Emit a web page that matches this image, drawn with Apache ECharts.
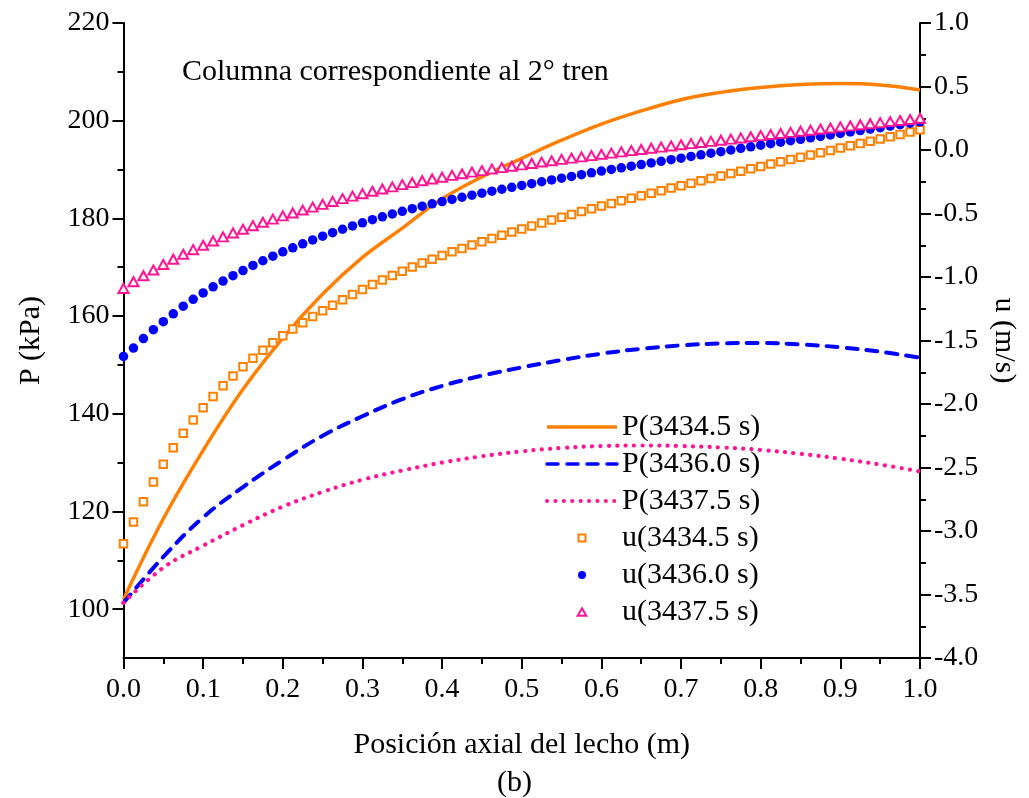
<!DOCTYPE html>
<html>
<head>
<meta charset="utf-8">
<script src="https://cdn.jsdelivr.net/npm/echarts@6/dist/echarts.min.js"></script>
<style>html,body{margin:0;padding:0;background:#fff}#c{width:1029px;height:798px}</style>
</head>
<body>
<div id="c"></div>
<script>
// ---- data ----
var pX = [0,0.05,0.1,0.15,0.2,0.25,0.3,0.35,0.4,0.45,0.5,0.55,0.6,0.65,0.7,0.75,0.8,0.85,0.9,0.95,1.0];
var p34345 = [102,118.5,132.5,145,155.5,164.5,172,178,184,188.5,192.3,196,199.3,202,204.3,205.8,206.8,207.4,207.6,207.3,206.3];
var p34360 = [101.3,110.7,118.8,125,130.5,135.5,139.5,143,145.7,147.8,149.5,151,152.3,153.3,154,154.4,154.5,154.2,153.6,152.7,151.5];
var p34375 = [101.3,108.5,113,117.2,121,124,126.5,128.4,130,131.3,132.3,133,133.4,133.5,133.4,133.1,132.6,131.8,130.8,129.6,128.2];

var uX = [0,0.0125,0.025,0.0375,0.05,0.0625,0.075,0.0875,0.1,0.1125,0.125,0.1375,0.15,0.1625,0.175,0.1875,0.2,0.2125,0.225,0.2375,0.25,0.2625,0.275,0.2875,0.3,0.3125,0.325,0.3375,0.35,0.3625,0.375,0.3875,0.4,0.4125,0.425,0.4375,0.45,0.4625,0.475,0.4875,0.5,0.5125,0.525,0.5375,0.55,0.5625,0.575,0.5875,0.6,0.6125,0.625,0.6375,0.65,0.6625,0.675,0.6875,0.7,0.7125,0.725,0.7375,0.75,0.7625,0.775,0.7875,0.8,0.8125,0.825,0.8375,0.85,0.8625,0.875,0.8875,0.9,0.9125,0.925,0.9375,0.95,0.9625,0.975,0.9875,1.0];
var u34345 = [-3.10,-2.93,-2.77,-2.615,-2.475,-2.345,-2.23,-2.125,-2.03,-1.94,-1.857,-1.78,-1.707,-1.64,-1.577,-1.518,-1.463,-1.41,-1.36,-1.312,-1.266,-1.222,-1.179,-1.138,-1.098,-1.06,-1.023,-0.988,-0.954,-0.922,-0.89,-0.86,-0.83,-0.802,-0.775,-0.748,-0.722,-0.696,-0.671,-0.646,-0.622,-0.598,-0.575,-0.552,-0.529,-0.507,-0.485,-0.463,-0.441,-0.421,-0.400,-0.380,-0.360,-0.340,-0.320,-0.300,-0.281,-0.262,-0.243,-0.224,-0.205,-0.186,-0.167,-0.148,-0.129,-0.111,-0.093,-0.075,-0.057,-0.039,-0.021,-0.003,0.015,0.033,0.051,0.069,0.087,0.105,0.123,0.141,0.159];
var u34360 = [-1.625,-1.56,-1.485,-1.415,-1.352,-1.29,-1.23,-1.176,-1.125,-1.077,-1.032,-0.99,-0.949,-0.909,-0.872,-0.836,-0.802,-0.77,-0.739,-0.708,-0.679,-0.651,-0.624,-0.598,-0.573,-0.549,-0.526,-0.504,-0.483,-0.462,-0.442,-0.424,-0.406,-0.389,-0.372,-0.356,-0.34,-0.324,-0.309,-0.294,-0.279,-0.265,-0.25,-0.236,-0.222,-0.208,-0.194,-0.18,-0.166,-0.153,-0.140,-0.127,-0.115,-0.102,-0.089,-0.076,-0.064,-0.051,-0.038,-0.025,-0.013,0.000,0.013,0.025,0.038,0.050,0.061,0.073,0.084,0.096,0.107,0.119,0.130,0.142,0.153,0.165,0.176,0.188,0.199,0.211,0.222];
var u34375 = [-1.09,-1.037,-0.99,-0.945,-0.901,-0.86,-0.821,-0.785,-0.75,-0.716,-0.684,-0.653,-0.624,-0.596,-0.569,-0.544,-0.519,-0.496,-0.473,-0.45,-0.428,-0.405,-0.383,-0.363,-0.344,-0.325,-0.307,-0.29,-0.273,-0.257,-0.242,-0.228,-0.214,-0.2,-0.187,-0.174,-0.162,-0.15,-0.139,-0.128,-0.117,-0.106,-0.095,-0.085,-0.074,-0.064,-0.054,-0.044,-0.034,-0.025,-0.015,-0.005,0.004,0.014,0.023,0.032,0.041,0.05,0.059,0.068,0.077,0.086,0.095,0.104,0.113,0.122,0.13,0.139,0.148,0.156,0.165,0.173,0.182,0.19,0.199,0.207,0.215,0.224,0.232,0.24,0.25];

var pMajorTicks = [100,120,140,160,180,200,220];
var pMinorTicks = [110,130,150,170,190,210];
var names = ['P(3434.5 s)','P(3436.0 s)','P(3437.5 s)','u(3434.5 s)','u(3436.0 s)','u(3437.5 s)'];

function zip(xs, ys){ return xs.map(function(x,i){ return [x, ys[i]]; }); }

var FONT = 'Liberation Serif';
var ORANGE = '#ff8000', BLUE = '#0000ff', PINK = '#ff1493';

// legend icons: invisible corner points fix the icon box to the 70x9 legend item box
var ICON_SQUARE = 'path://M0,0M70,9M31.5,1L38.5,1L38.5,8L31.5,8Z';
var ICON_CIRCLE = 'path://M0,0M70,9M31,4.5A4,4,0,1,0,39,4.5A4,4,0,1,0,31,4.5Z';
var ICON_TRI = 'path://M0,0M70,9M35,0.8L39.3,8.2L30.7,8.2Z';

var chart = echarts.init(document.getElementById('c'), null, {renderer:'canvas'});
chart.setOption({
  animation: false,
  backgroundColor: '#fff',
  textStyle: {fontFamily: FONT, color: '#000'},
  title: [
    {text: 'Columna correspondiente al 2° tren', left: 182, top: 57, padding: 0,
     textStyle: {fontFamily: FONT, fontSize: 30, fontWeight: 'normal', color: '#000'}},
    {text: '(b)', left: 'center', top: 768, padding: 0,
     textStyle: {fontFamily: FONT, fontSize: 30, fontWeight: 'normal', color: '#000'}}
  ],
  grid: {left: 123.5, right: 109, top: 23, bottom: 140, containLabel: false},
  legend: {
    orient: 'vertical', left: 545, top: 412, padding: 0, itemWidth: 70, itemHeight: 9, itemGap: 7,
    symbolKeepAspect: true,
    data: [
      {name: names[0], itemStyle: {opacity: 0}, lineStyle: {width: 3.5}},
      {name: names[1], itemStyle: {opacity: 0}, lineStyle: {width: 3.5}},
      {name: names[2], itemStyle: {opacity: 0}, lineStyle: {width: 4}},
      {name: names[3], icon: ICON_SQUARE, itemStyle: {color: '#fff', borderColor: ORANGE, borderWidth: 2, opacity: 1}},
      {name: names[4], icon: ICON_CIRCLE, itemStyle: {color: BLUE, borderWidth: 0, opacity: 1}},
      {name: names[5], icon: ICON_TRI, itemStyle: {color: '#fff', borderColor: PINK, borderWidth: 2, opacity: 1}}
    ],
    textStyle: {fontFamily: FONT, fontSize: 30, color: '#000'}
  },
  xAxis: {
    type: 'value', min: 0, max: 1, interval: 0.1,
    name: 'Posición axial del lecho (m)', nameLocation: 'middle', nameGap: 72,
    nameTextStyle: {fontFamily: FONT, fontSize: 30, color: '#000'},
    axisLine: {show: true, onZero: false, lineStyle: {color: '#000', width: 2}},
    axisTick: {show: true, inside: false, length: 11, lineStyle: {width: 2, color: '#000'}},
    minorTick: {show: true, splitNumber: 2, length: 6, lineStyle: {width: 2, color: '#000'}},
    splitLine: {show: false},
    axisLabel: {margin: 18, fontFamily: FONT, fontSize: 28, color: '#000',
      formatter: function(v){ return v.toFixed(1); }}
  },
  yAxis: [
    {
      type: 'value', min: 90, max: 220, position: 'left',
      name: 'P (kPa)', nameLocation: 'middle', nameGap: 77,
      nameTextStyle: {fontFamily: FONT, fontSize: 30, color: '#000'},
      axisLine: {show: true, onZero: false, lineStyle: {color: '#000', width: 2}},
      axisTick: {show: true, inside: false, length: 11, customValues: pMajorTicks, lineStyle: {width: 2, color: '#000'}},
      axisLabel: {margin: 14, fontFamily: FONT, fontSize: 28, color: '#000', customValues: pMajorTicks},
      splitLine: {show: false}
    },
    {
      type: 'value', min: -4, max: 1, interval: 0.5, position: 'right',
      name: 'u (m/s)', nameLocation: 'middle', nameGap: 68, nameRotate: -90,
      nameTextStyle: {fontFamily: FONT, fontSize: 30, color: '#000'},
      axisLine: {show: true, onZero: false, lineStyle: {color: '#000', width: 2}},
      axisTick: {show: true, inside: false, length: 11, lineStyle: {width: 2, color: '#000'}},
      minorTick: {show: true, splitNumber: 2, length: 6, lineStyle: {width: 2, color: '#000'}},
      axisLabel: {margin: 14, fontFamily: FONT, fontSize: 28, color: '#000',
        formatter: function(v){ return v.toFixed(1); }},
      splitLine: {show: false}
    },
    {
      type: 'value', min: 90, max: 220, position: 'left', offset: 0,
      axisLine: {show: false, onZero: false},
      axisTick: {show: true, inside: false, length: 6, customValues: pMinorTicks, lineStyle: {width: 2, color: '#000'}},
      axisLabel: {show: false, customValues: pMinorTicks},
      splitLine: {show: false}
    }
  ],
  series: [
    {name: names[0], type: 'line', yAxisIndex: 0, data: zip(pX, p34345), smooth: 0.4, symbol: 'none',
     lineStyle: {color: ORANGE, width: 3.5, type: 'solid'}, itemStyle: {color: ORANGE}, z: 3},
    {name: names[1], type: 'line', yAxisIndex: 0, data: zip(pX, p34360), smooth: 0.4, symbol: 'none',
     lineStyle: {color: BLUE, width: 4, type: [11, 9], cap: 'round'}, itemStyle: {color: BLUE}, z: 3},
    {name: names[2], type: 'line', yAxisIndex: 0, data: zip(pX, p34375), smooth: 0.4, symbol: 'none',
     lineStyle: {color: PINK, width: 4.2, type: [0.1, 8.3], cap: 'round'}, itemStyle: {color: PINK}, z: 3},
    {name: names[3], type: 'scatter', yAxisIndex: 1, data: zip(uX, u34345), symbol: 'rect', symbolSize: 7.5,
     itemStyle: {color: '#fff', borderColor: ORANGE, borderWidth: 2, opacity: 1}, z: 4},
    {name: names[4], type: 'scatter', yAxisIndex: 1, data: zip(uX, u34360), symbol: 'circle', symbolSize: 9.5,
     itemStyle: {color: BLUE, borderWidth: 0, opacity: 1}, z: 4},
    {name: names[5], type: 'scatter', yAxisIndex: 1, data: zip(uX, u34375), symbol: 'triangle', symbolSize: [10, 9],
     itemStyle: {color: '#fff', borderColor: PINK, borderWidth: 2, opacity: 1}, z: 4}
  ]
});
</script>
</body>
</html>
